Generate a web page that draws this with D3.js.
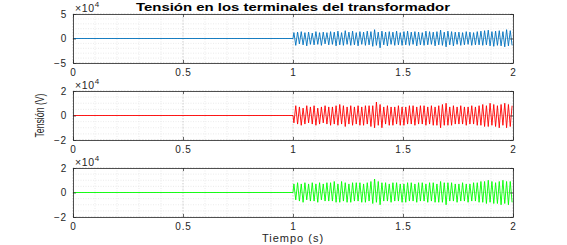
<!DOCTYPE html>
<html>
<head>
<meta charset="utf-8">
<script src="https://cdn.jsdelivr.net/npm/d3@7"></script>
<style>
    body { margin: 0; background: #ffffff; }
    svg { display: block; font-family: "Liberation Sans", Arial, sans-serif; }
</style>
</head>
<body>
<svg id="voltage-chart"></svg>
<script>
/*--------------------------------------------------------------------------------
----- VOLTAGE CHARTS (three phases at the transformer terminals, units of 1e4 V)
--------------------------------------------------------------------------------*/

// Time axis ticks and the instant the signal starts (before it the signal is zero)
const time_ticks = [0, 0.5, 1, 1.5, 2];
const signal_start = 1;
const signal_end = 2;

// Peak values of every half-cycle (x 1e4 V)
const phase_a_peaks = [
    1.2, -1.4, 1.3, -1.1, 1.4, -1.3, 1.2, -1.5, 1.3, -1.2,
    1.1, -1.3, 1.4, -1.2, 1.2, -1.4, 1.3, -1.1, 1.2, -1.3,
    1.4, -1.2, 1.3, -1.5, 1.5, -1.3, 1.2, -1.4, 1.6, -1.2,
    1.3, -1.4, 1.5, -1.3, 1.2, -1.5, 1.4, -1.2, 1.3, -1.4,
    1.5, -1.3, 1.4, -1.6, 1.8, -1.4, 1.3, -1.9, 1.5, -1.3,
    1.3, -1.5, 1.4, -1.2, 1.3, -1.4, 1.5, -1.3, 1.2, -1.4,
    1.4, -1.3, 1.5, -1.4, 1.3, -1.2, 1.4, -1.5, 1.3, -1.3,
    1.2, -1.4, 1.5, -1.3, 1.4, -1.2, 1.3, -1.5, 1.4, -1.3,
    1.7, -1.4, 1.3, -1.7, 1.5, -1.3, 1.4, -1.5, 1.3, -1.2,
    1.3, -1.4, 1.2, -1.3, 1.4, -1.2, 1.3, -1.4, 1.2, -1.3,
    1.4, -1.3, 1.5, -1.4, 1.6, -1.3, 1.7, -1.5, 1.4, -1.6,
    1.5, -1.4, 1.6, -1.5, 1.4, -1.7, 1.8, -1.5, 1.6, -1.4
];
const phase_b_peaks = [
    -0.6, 0.8, -0.7, 0.7, -0.8, 0.6, -0.7, 0.8, -0.6, 0.7,
    -0.7, 0.8, -0.8, 0.6, -0.7, 0.7, -0.6, 0.8, -0.7, 0.7,
    -0.8, 0.7, -0.7, 0.8, -0.8, 0.9, -0.7, 0.8, -0.9, 0.7,
    -0.7, 0.8, -0.8, 0.7, -0.7, 0.8, -0.8, 0.7, -0.8, 0.8,
    -0.7, 0.8, -0.9, 0.8, -1.0, 1.1, -0.8, 0.9, -1.0, 0.7,
    -0.7, 0.8, -0.8, 0.7, -0.8, 0.7, -0.7, 0.8, -0.8, 0.7,
    -0.8, 0.7, -0.7, 0.8, -0.7, 0.8, -0.8, 0.7, -0.7, 0.8,
    -0.7, 0.8, -0.8, 0.7, -0.7, 0.8, -0.8, 0.7, -0.8, 0.8,
    -1.0, 0.9, -0.8, 1.0, -0.8, 0.7, -0.8, 0.8, -0.7, 0.7,
    -0.7, 0.8, -0.7, 0.7, -0.8, 0.7, -0.7, 0.8, -0.7, 0.7,
    -0.8, 0.8, -0.8, 0.9, -0.9, 0.8, -0.9, 1.0, -0.8, 0.9,
    -0.9, 0.8, -1.0, 0.9, -0.8, 1.0, -1.0, 0.9, -0.9, 0.8
];
const phase_c_peaks = [
    0.7, -0.6, 0.8, -0.7, 0.7, -0.8, 0.8, -0.6, 0.7, -0.7,
    0.8, -0.7, 0.7, -0.8, 0.8, -0.6, 0.7, -0.7, 0.8, -0.7,
    0.8, -0.7, 0.9, -0.8, 0.7, -0.8, 0.9, -0.7, 0.8, -0.8,
    0.7, -0.8, 0.8, -0.7, 0.8, -0.7, 0.8, -0.8, 0.7, -0.8,
    0.8, -0.7, 0.9, -0.9, 1.1, -0.8, 0.9, -1.0, 0.8, -0.7,
    0.8, -0.7, 0.7, -0.8, 0.8, -0.7, 0.8, -0.7, 0.7, -0.8,
    0.7, -0.8, 0.8, -0.7, 0.8, -0.7, 0.7, -0.8, 0.8, -0.7,
    0.8, -0.7, 0.7, -0.8, 0.8, -0.7, 0.8, -0.8, 0.7, -0.8,
    0.9, -0.8, 0.8, -1.0, 0.8, -0.7, 0.8, -0.7, 0.7, -0.8,
    0.7, -0.7, 0.8, -0.7, 0.7, -0.8, 0.7, -0.7, 0.8, -0.7,
    0.8, -0.8, 0.9, -0.8, 0.9, -0.9, 1.0, -0.8, 0.9, -0.9,
    0.8, -0.9, 0.9, -1.0, 1.0, -0.9, 0.9, -1.0, 0.9, -0.8
];

// Y-axis limits, ticks and minor grid steps of each panel
const panel_y_limits = [5, 2, 2];
const panel_y_ticks = [[-5, 0, 5], [-2, 0, 2], [-2, 0, 2]];
const panel_y_minor = [1, 0.5, 0.5];
const panel_colors = ["#0072BD", "#FF0000", "#00FF00"];

// Texts of the figure
const chart_title = "Tensión en los terminales del transformador";
const x_label = "Tiempo (s)";
const y_label = "Tensión (V)";

// Function to convert a list of half-cycle peaks into line datapoints
function build_signal_data(peaks) {
    const signal_data = [{ x: 0, y: 0 }, { x: signal_start, y: 0 }];
    const half_cycle = (signal_end - signal_start) / peaks.length;
    for (let i = 0; i < peaks.length; i++) {
        signal_data.push({ x: signal_start + (i + 0.5) * half_cycle, y: peaks[i] });
    }
    return signal_data;
}

// Configure the dimensions of the figure and the panels
const chart_width = 567, chart_height = 245;
const panel_left = 73, panel_right = 513;
const panel_tops = [14, 91, 168];
const panel_height = 49;
const all_peaks = [phase_a_peaks, phase_b_peaks, phase_c_peaks];

const svg = d3.select("#voltage-chart")
    .attr("width", chart_width)
    .attr("height", chart_height);

// Shared X scale for every panel
const x_scale = d3.scaleLinear()
    .domain([0, 2])
    .range([panel_left, panel_right]);
const x_minor_ticks = d3.range(0, 2.0001, 0.1);

// Draw every panel
for (let p = 0; p < 3; p++) {
    const top = panel_tops[p], bottom = top + panel_height;
    const y_lim = panel_y_limits[p];
    const y_scale = d3.scaleLinear()
        .domain([-y_lim, y_lim])
        .range([bottom, top]);
    const panel = svg.append("g");

    // Minor grid (light dotted lines)
    const y_minor_ticks = d3.range(-y_lim, y_lim + 0.0001, panel_y_minor[p]);
    panel.append("g").selectAll("line")
        .data(x_minor_ticks)
        .enter().append("line")
        .attr("x1", d => x_scale(d)).attr("x2", d => x_scale(d))
        .attr("y1", top).attr("y2", bottom)
        .attr("stroke", "#e2e2e2").attr("stroke-width", 0.7)
        .attr("stroke-dasharray", "1,1.5");
    panel.append("g").selectAll("line")
        .data(y_minor_ticks)
        .enter().append("line")
        .attr("x1", panel_left).attr("x2", panel_right)
        .attr("y1", d => y_scale(d)).attr("y2", d => y_scale(d))
        .attr("stroke", "#e2e2e2").attr("stroke-width", 0.7)
        .attr("stroke-dasharray", "1,1.5");

    // Major grid
    panel.append("g").selectAll("line")
        .data(time_ticks)
        .enter().append("line")
        .attr("x1", d => x_scale(d)).attr("x2", d => x_scale(d))
        .attr("y1", top).attr("y2", bottom)
        .attr("stroke", "#c4c4c4").attr("stroke-width", 0.7)
        .attr("stroke-dasharray", "1.5,1.5");
    panel.append("g").selectAll("line")
        .data(panel_y_ticks[p])
        .enter().append("line")
        .attr("x1", panel_left).attr("x2", panel_right)
        .attr("y1", d => y_scale(d)).attr("y2", d => y_scale(d))
        .attr("stroke", "#c4c4c4").attr("stroke-width", 0.7)
        .attr("stroke-dasharray", "1.5,1.5");

    // Signal line
    const line = d3.line()
        .x(d => x_scale(d.x))
        .y(d => y_scale(d.y));
    panel.append("path")
        .datum(build_signal_data(all_peaks[p]))
        .attr("d", line)
        .attr("fill", "none")
        .attr("stroke", panel_colors[p])
        .attr("stroke-width", 0.9)
        .attr("stroke-linejoin", "round");

    // Axes (inward ticks) with box on
    const x_axis = d3.axisBottom(x_scale).tickValues(time_ticks)
        .tickSizeInner(-3).tickSizeOuter(0).tickPadding(6)
        .tickFormat(d3.format("~g"));
    const y_axis = d3.axisLeft(y_scale).tickValues(panel_y_ticks[p])
        .tickSizeInner(-3).tickSizeOuter(0).tickPadding(6)
        .tickFormat(d3.format("~g"));
    const x_axis_g = panel.append("g")
        .attr("transform", `translate(0,${bottom})`)
        .call(x_axis);
    const y_axis_g = panel.append("g")
        .attr("transform", `translate(${panel_left},0)`)
        .call(y_axis);
    panel.append("g")
        .attr("transform", `translate(0,${top})`)
        .call(d3.axisTop(x_scale).tickValues(time_ticks).tickSizeInner(-3).tickSizeOuter(0).tickFormat(""));
    panel.append("g")
        .attr("transform", `translate(${panel_right},0)`)
        .call(d3.axisRight(y_scale).tickValues(panel_y_ticks[p]).tickSizeInner(-3).tickSizeOuter(0).tickFormat(""));

    // Style the axes like the reference
    panel.selectAll(".domain").attr("stroke", "#262626").attr("stroke-width", 0.8);
    panel.selectAll(".tick line").attr("stroke", "#262626").attr("stroke-width", 0.7);
    [x_axis_g, y_axis_g].forEach(g => g.selectAll("text")
        .attr("fill", "#262626")
        .attr("font-size", 10)
        .attr("letter-spacing", 0.8)
        .attr("font-family", "Liberation Sans, Arial, sans-serif"));

    // Exponent label above the Y axis
    const exponent = panel.append("text")
        .attr("x", panel_left + 2)
        .attr("y", top - 2)
        .attr("font-size", 10.5)
        .attr("letter-spacing", 0.6)
        .attr("fill", "#262626");
    exponent.append("tspan").text("×10");
    exponent.append("tspan").attr("font-size", 8).attr("dy", -5).text("4");
}

// Title of the figure
svg.append("text")
    .attr("x", (panel_left + panel_right) / 2)
    .attr("y", 11)
    .attr("text-anchor", "middle")
    .attr("font-size", 10.5)
    .attr("font-weight", "bold")
    .attr("textLength", 314)
    .attr("lengthAdjust", "spacingAndGlyphs")
    .attr("fill", "#000000")
    .text(chart_title);

// X-axis label under the last panel
svg.append("text")
    .attr("x", (panel_left + panel_right) / 2)
    .attr("y", 242)
    .attr("text-anchor", "middle")
    .attr("font-size", 11)
    .attr("letter-spacing", 1)
    .attr("fill", "#262626")
    .text(x_label);

// Y-axis label beside the middle panel
svg.append("text")
    .attr("transform", `translate(44,${panel_tops[1] + panel_height / 2}) rotate(-90)`)
    .attr("text-anchor", "middle")
    .attr("font-size", 12)
    .attr("textLength", 44)
    .attr("lengthAdjust", "spacingAndGlyphs")
    .attr("fill", "#262626")
    .text(y_label);
</script>
</body>
</html>
